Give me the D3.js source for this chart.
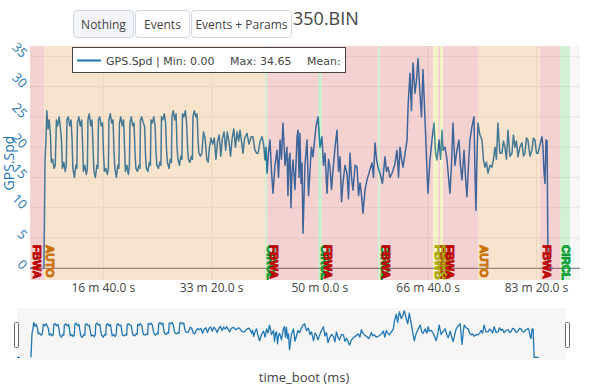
<!DOCTYPE html>
<html>
<head>
<meta charset="utf-8">
<script src="https://cdn.jsdelivr.net/npm/d3@7.9.0/dist/d3.min.js"></script>
<style>
  body { margin: 0; background: #fff; }
  svg { display: block; font-family: "Open Sans", sans-serif; }
</style>
</head>
<body>
<svg id="chart" width="600" height="386"></svg>
<script>
// GPS.Spd samples: [time_boot in s, speed]
const gpsStart = [[323, 0], [351, 0], [400, null], [452, 0]];
const gpsSquare = [
  [462, 18], [470, 21], [478, 26], [490, 23], [500, 24.5], [512, 22], [520, 17.5], [532, 18], [545, 16.5], [556, 17],
  [567, 24.5], [578, 23.5], [592, 25], [605, 23], [614, 21], [622, 16.5], [636, 17.5], [648, 16], [658, 17],
  [664, 24.5], [676, 25], [690, 23.5], [702, 24.5], [711, 21.5], [719, 16.5], [733, 15], [746, 17], [756, 16.5],
  [761, 24], [774, 25], [787, 23.5], [800, 24.5], [808, 21], [816, 16], [830, 17], [843, 15.5], [853, 16.5],
  [858, 24.5], [870, 25.5], [884, 23.5], [896, 24.5], [905, 20], [913, 16], [927, 15], [940, 17], [950, 16.5],
  [955, 24.5], [967, 25], [981, 23.5], [993, 24], [1002, 19], [1010, 16], [1024, 16.5], [1037, 15.5], [1047, 16.5],
  [1052, 24.5], [1064, 25.5], [1078, 24], [1090, 24.5], [1099, 19], [1107, 16.5], [1121, 15], [1134, 17], [1144, 16.5],
  [1149, 24], [1161, 25], [1175, 23.5], [1187, 24.5], [1196, 20], [1204, 16], [1218, 17], [1231, 15.5], [1241, 17],
  [1246, 24], [1258, 25], [1272, 23.5], [1284, 24], [1293, 19], [1301, 16.5], [1315, 16], [1328, 17], [1338, 16.5],
  [1343, 24.5], [1355, 25], [1369, 24], [1381, 23.5], [1390, 18.5], [1398, 16.5], [1412, 16], [1425, 17.5], [1435, 17],
  [1440, 24.5], [1452, 24], [1466, 25], [1478, 23.5], [1487, 19], [1495, 17], [1509, 16.5], [1522, 17.5], [1532, 17],
  [1537, 25], [1549, 24.5], [1563, 25.5], [1575, 24], [1584, 19.5], [1592, 17.5], [1606, 16.5], [1619, 18], [1629, 17.5],
  [1634, 25], [1646, 26], [1660, 24.5], [1672, 25.5], [1681, 20], [1689, 18], [1703, 17], [1716, 18.5], [1726, 18],
  [1731, 25.5], [1743, 25], [1757, 26], [1769, 24], [1778, 20], [1786, 18], [1800, 17.5], [1813, 18.5], [1823, 18],
  [1828, 25], [1840, 26], [1854, 25], [1866, 25.5], [1875, 21], [1883, 19], [1897, 18.5]
];
const gpsMid = [
  [1910, 19], [1925, 22.5], [1940, 21.5], [1955, 18], [1968, 17.5], [1980, 20], [1995, 21.5], [2010, 20.5],
  [2025, 21.5], [2040, 18], [2055, 21], [2070, 22], [2085, 18.5], [2100, 21.5], [2115, 22.5], [2130, 19.5],
  [2145, 22.5], [2160, 21], [2175, 18.5], [2190, 21.5], [2205, 23], [2220, 20], [2235, 22.5], [2250, 21],
  [2262, 22.8], [2276, 21], [2290, 19], [2305, 21.5], [2327, 22.3], [2345, 20.5], [2365, 21.7], [2382, 21.7],
  [2400, 19.5], [2415, 19], [2429, 19], [2448, 21], [2466, 21.7], [2480, 20.5]
];
const gpsNoisy = [
  [2493, 17.9], [2502, 20], [2512, 15.7], [2525, 19], [2539, 21.2], [2553, 16], [2567, 12.4], [2585, 17],
  [2604, 19.5], [2618, 15], [2632, 21.2], [2645, 18], [2659, 24], [2678, 17], [2696, 20], [2705, 12],
  [2715, 18], [2724, 19], [2733, 10], [2742, 15.7], [2752, 17.9], [2770, 13], [2789, 21.7], [2798, 22.8],
  [2807, 15], [2816, 22.3], [2826, 14], [2835, 17.4], [2844, 5.8], [2862, 17], [2881, 21.2], [2895, 12],
  [2909, 16.2], [2922, 20], [2936, 18.4], [2950, 21], [2965, 23.5], [2983, 25], [3001, 20], [3019, 21.7],
  [3033, 17], [3047, 19], [3066, 12.4], [3080, 18], [3093, 16.7], [3107, 13], [3121, 16.2], [3140, 20],
  [3158, 22.8], [3172, 16], [3186, 18.4], [3200, 11], [3213, 14.1], [3232, 17], [3250, 15.7], [3264, 11.5],
  [3278, 19], [3292, 15], [3306, 12.9], [3325, 17], [3343, 16.7], [3357, 12], [3371, 14.1], [3385, 12],
  [3398, 9.1], [3417, 13], [3435, 14.6], [3458, 16], [3481, 17.4], [3495, 15], [3509, 20.7], [3523, 18],
  [3537, 16.7], [3555, 15.7], [3578, 14], [3601, 18.4], [3615, 16], [3629, 16.7], [3647, 15], [3666, 15.7],
  [3690, 17], [3712, 19.5], [3726, 15], [3740, 20], [3754, 18], [3768, 16.7], [3787, 19], [3805, 21.2],
  [3815, 27], [3832, 32.2], [3845, 26], [3860, 33.9], [3878, 28.9], [3892, 31], [3906, 34.65], [3924, 28.9],
  [3938, 25], [3952, 32.8], [3971, 24.5], [3985, 18], [3998, 12.4], [4017, 18], [4035, 21.2], [4054, 24],
  [4068, 19], [4081, 17.9], [4100, 21.2], [4115, 18], [4127, 22.8], [4137, 19.5], [4155, 20], [4174, 17.9],
  [4188, 15], [4201, 12.4], [4215, 17], [4229, 24], [4247, 17], [4266, 19.5], [4284, 21.2], [4298, 17],
  [4312, 14.6], [4331, 19.5], [4345, 15], [4358, 11.8], [4372, 17], [4386, 21.2], [4404, 23.4], [4423, 25],
  [4432, 16], [4441, 9.6], [4450, 18], [4460, 24], [4478, 22], [4497, 21.2], [4510, 18], [4524, 16.7],
  [4538, 17.5], [4552, 15.7], [4570, 17], [4589, 16.7], [4603, 18], [4617, 20], [4630, 18], [4644, 24],
  [4662, 19], [4681, 19], [4695, 21], [4709, 20], [4723, 18], [4737, 22.8], [4755, 18.5], [4774, 19],
  [4787, 22], [4801, 20], [4815, 21], [4829, 18.4], [4847, 20], [4866, 20.7], [4880, 18.5], [4894, 19],
  [4907, 21.5], [4921, 21.2], [4940, 18.5], [4958, 19.5], [4972, 21.5], [4986, 21.2], [5000, 19], [5014, 19],
  [5033, 20.5], [5051, 21.7], [5060, 20], [5070, 15.7], [5079, 14], [5088, 21.2], [5098, 21], [5107, 0], [5150, 0]
];

// flight mode changes (s) and names
const modeStart = [323, 452, 2493, 2512, 2983, 3019, 3537, 3555, 4044, 4091, 4109, 4137, 4460, 5033, 5217];
const modeName = ['FBWA', 'AUTO', 'CIRCLE', 'FBWA', 'CIRCLE', 'FBWA', 'CIRCLE', 'FBWA', 'FBWB', 'FBWA', 'FBWB', 'FBWA', 'AUTO', 'FBWA', 'CIRCLE'];
const modeEnd = 5309;

const xTickSec = [1000, 2000, 3000, 4000, 5000];
const yTicks = [0, 5, 10, 15, 20, 25, 30, 35];
const buttonLabels = ['Nothing', 'Events', 'Events + Params'];

const modeFill = {
  FBWA: 'rgba(235,0,0,0.15)', AUTO: 'rgba(255,128,0,0.17)',
  CIRCLE: 'rgba(0,200,0,0.15)', FBWB: 'rgba(240,230,0,0.18)'
};
const modeText = { FBWA: '#e00000', AUTO: '#e08a00', CIRCLE: '#10c040', FBWB: '#c8c000' };
const modeStroke = { FBWA: '#b00000', AUTO: '#c06000', CIRCLE: '#009030', FBWB: '#a09a00' };

const gps = gpsStart.concat(gpsSquare, gpsMid, gpsNoisy);
const blue = '#1f77b4';

const svg = d3.select('#chart');
const P = { l: 30, r: 580, t: 46, b: 280 };

const x = d3.scaleLinear().domain([323000, 5402000]).range([P.l, P.r]);
const y = d3.scaleLinear().domain([-1.93, 36.7]).range([P.b, P.t]);

function fmtTime(ms) {
  const s = ms / 1000;
  const m = Math.floor(s / 60);
  return `${m} m ${(s - m * 60).toFixed(1)} s`;
}

svg.append('clipPath').attr('id', 'clip')
  .append('rect').attr('x', P.l).attr('y', P.t).attr('width', P.r - P.l).attr('height', P.b - P.t);

const plot = svg.append('g').attr('clip-path', 'url(#clip)');
plot.append('rect').attr('x', P.l).attr('y', P.t).attr('width', P.r - P.l).attr('height', P.b - P.t)
  .attr('fill', '#f7f7f7');

// grid
plot.selectAll('.hg').data(yTicks).join('line')
  .attr('x1', P.l).attr('x2', P.r).attr('y1', d => y(d)).attr('y2', d => y(d))
  .attr('stroke', '#e6e6e6');
plot.selectAll('.vg').data(xTickSec).join('line')
  .attr('x1', d => x(d * 1000)).attr('x2', d => x(d * 1000)).attr('y1', P.t).attr('y2', P.b)
  .attr('stroke', '#e6e6e6');
plot.append('line').attr('x1', P.l).attr('x2', P.r).attr('y1', y(0)).attr('y2', y(0))
  .attr('stroke', '#8a8a8a').attr('stroke-width', 1.3);

const line = d3.line()
  .defined(d => d[1] != null)
  .x(d => x(d[0] * 1000))
  .y(d => y(d[1]));

plot.append('path').datum(gps).attr('d', line)
  .attr('fill', 'none').attr('stroke', blue).attr('stroke-width', 1.5).attr('stroke-linejoin', 'round');

// mode bands on top of the trace
const modes = modeStart.map((s, i) => ({ s, e: i < modeStart.length - 1 ? modeStart[i + 1] : modeEnd, name: modeName[i] }));
plot.selectAll('.band').data(modes).join('rect')
  .attr('x', d => x(d.s * 1000)).attr('width', d => x(d.e * 1000) - x(d.s * 1000))
  .attr('y', P.t).attr('height', P.b - P.t)
  .attr('fill', d => modeFill[d.name]);

plot.selectAll('.ml').data(modes).join('text')
  .attr('transform', d => `translate(${x(d.s * 1000) + 2.5},245) rotate(90)`)
  .attr('font-family', '"Liberation Sans", Arial, sans-serif')
  .attr('font-weight', 'bold').attr('font-size', 11.5)
  .attr('fill', d => modeText[d.name])
  .attr('stroke', d => modeStroke[d.name]).attr('stroke-width', 0.8)
  .text(d => d.name);

// axes text
svg.selectAll('.xt').data(xTickSec).join('text')
  .attr('x', d => x(d * 1000)).attr('y', 292)
  .attr('text-anchor', 'middle').attr('font-size', 12).attr('fill', '#444')
  .text(d => fmtTime(d * 1000));

svg.selectAll('.yt').data(yTicks).join('text')
  .attr('transform', d => `translate(25,${y(d) - 1}) rotate(45)`)
  .attr('text-anchor', 'end').attr('dy', '0.35em')
  .attr('font-size', 13).attr('fill', blue)
  .text(d => d);

svg.append('text')
  .attr('transform', `translate(13.5,163) rotate(-90)`)
  .attr('text-anchor', 'middle').attr('font-size', 14).attr('fill', blue)
  .text('GPS.Spd');

// legend
const lg = svg.append('g');
lg.append('rect').attr('x', 72.5).attr('y', 47.5).attr('width', 273).attr('height', 25)
  .attr('fill', '#fff').attr('stroke', '#444');
lg.append('line').attr('x1', 77).attr('x2', 101).attr('y1', 60.5).attr('y2', 60.5)
  .attr('stroke', blue).attr('stroke-width', 2);
[['GPS.Spd | Min: 0.00', 106], ['Max: 34.65', 230], ['Mean:', 307]].forEach(([t, px]) => {
  lg.append('text').attr('x', px).attr('y', 65).attr('font-family', '"DejaVu Sans", Verdana, sans-serif')
    .attr('font-size', 11).attr('fill', '#444').text(t);
});

// title + buttons
svg.append('text').attr('x', 293).attr('y', 25).attr('font-size', 18).attr('fill', '#444').text('350.BIN');
const btnX = [73, 135, 191];
const btnW = [60, 54, 100];
buttonLabels.forEach((b, i) => {
  svg.append('rect').attr('x', btnX[i] + 0.5).attr('y', 10.5).attr('width', btnW[i]).attr('height', 27)
    .attr('rx', 3).attr('fill', i === 0 ? '#f3f5fa' : '#fff').attr('stroke', '#cfd6e2');
  svg.append('text').attr('x', btnX[i] + btnW[i] / 2 + 0.5).attr('y', 28.5)
    .attr('text-anchor', 'middle').attr('font-size', 12).attr('fill', '#444').text(b);
});

// range slider
const xs = d3.scaleLinear().domain(x.domain()).range([17, 566]);
const ys = d3.scaleLinear().domain(y.domain()).range([360, 308]);
svg.append('rect').attr('x', 17).attr('y', 308).attr('width', 549).attr('height', 52).attr('fill', '#f6f6f6');
const sline = d3.line().defined(d => d[1] != null).x(d => xs(d[0] * 1000)).y(d => ys(d[1]));
svg.append('path').datum(gps).attr('d', sline)
  .attr('fill', 'none').attr('stroke', blue).attr('stroke-width', 1.3).attr('stroke-linejoin', 'round');
[14.5, 565.5].forEach(hx => {
  svg.append('rect').attr('x', hx).attr('y', 322.5).attr('width', 4).attr('height', 25)
    .attr('rx', 1).attr('fill', '#fff').attr('stroke', '#666');
});

svg.append('text').attr('x', 304).attr('y', 382).attr('text-anchor', 'middle')
  .attr('font-size', 13).attr('fill', '#444').text('time_boot (ms)');
</script>
</body>
</html>
